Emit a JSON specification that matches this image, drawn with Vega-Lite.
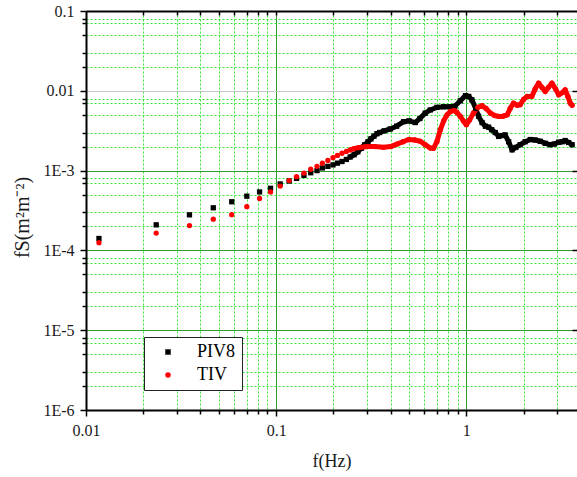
{
  "$schema": "https://vega.github.io/schema/vega-lite/v6.json",
  "width": 491,
  "height": 399,
  "autosize": {"type": "none"},
  "padding": {"left": 86, "top": 11, "right": 0, "bottom": 67},
  "background": "white",
  "config": {
    "view": {"stroke": null},
    "font": "'Times New Roman', 'Liberation Serif', serif",
    "axis": {"labelFont": "'Times New Roman', 'Liberation Serif', serif", "titleFont": "'Times New Roman', 'Liberation Serif', serif", "labelColor": "#1a1a1a", "titleColor": "#1a1a1a", "titleFontWeight": "normal"},
    "legend": {"labelFont": "'Times New Roman', 'Liberation Serif', serif"}
  },
  "datasets": {
    "spec": [
      {"f": 0.0117, "S": 0.000141, "series": "PIV8"},
      {"f": 0.0234, "S": 0.000209, "series": "PIV8"},
      {"f": 0.035, "S": 0.000279, "series": "PIV8"},
      {"f": 0.0467, "S": 0.000342, "series": "PIV8"},
      {"f": 0.0584, "S": 0.000407, "series": "PIV8"},
      {"f": 0.0701, "S": 0.000478, "series": "PIV8"},
      {"f": 0.0818, "S": 0.00054, "series": "PIV8"},
      {"f": 0.0934, "S": 0.0006, "series": "PIV8"},
      {"f": 0.105, "S": 0.00068, "series": "PIV8"},
      {"f": 0.117, "S": 0.00074, "series": "PIV8"},
      {"f": 0.128, "S": 0.0008, "series": "PIV8"},
      {"f": 0.14, "S": 0.00087, "series": "PIV8"},
      {"f": 0.152, "S": 0.00094, "series": "PIV8"},
      {"f": 0.164, "S": 0.001, "series": "PIV8"},
      {"f": 0.175, "S": 0.00108, "series": "PIV8"},
      {"f": 0.187, "S": 0.00113, "series": "PIV8"},
      {"f": 0.199, "S": 0.00118, "series": "PIV8"},
      {"f": 0.21, "S": 0.00124, "series": "PIV8"},
      {"f": 0.222, "S": 0.0013, "series": "PIV8"},
      {"f": 0.234, "S": 0.00138, "series": "PIV8"},
      {"f": 0.245, "S": 0.00148, "series": "PIV8"},
      {"f": 0.257, "S": 0.00158, "series": "PIV8"},
      {"f": 0.269, "S": 0.00172, "series": "PIV8"},
      {"f": 0.28, "S": 0.0019, "series": "PIV8"},
      {"f": 0.292, "S": 0.0021, "series": "PIV8"},
      {"f": 0.304, "S": 0.0023, "series": "PIV8"},
      {"f": 0.315, "S": 0.0025, "series": "PIV8"},
      {"f": 0.327, "S": 0.0027, "series": "PIV8"},
      {"f": 0.339, "S": 0.0029, "series": "PIV8"},
      {"f": 0.35, "S": 0.003, "series": "PIV8"},
      {"f": 0.37, "S": 0.00315, "series": "PIV8"},
      {"f": 0.398, "S": 0.00332, "series": "PIV8"},
      {"f": 0.43, "S": 0.0036, "series": "PIV8"},
      {"f": 0.468, "S": 0.0041, "series": "PIV8"},
      {"f": 0.5, "S": 0.0042, "series": "PIV8"},
      {"f": 0.539, "S": 0.004, "series": "PIV8"},
      {"f": 0.57, "S": 0.0045, "series": "PIV8"},
      {"f": 0.608, "S": 0.00525, "series": "PIV8"},
      {"f": 0.646, "S": 0.00575, "series": "PIV8"},
      {"f": 0.7, "S": 0.0062, "series": "PIV8"},
      {"f": 0.76, "S": 0.0063, "series": "PIV8"},
      {"f": 0.82, "S": 0.0063, "series": "PIV8"},
      {"f": 0.87, "S": 0.0064, "series": "PIV8"},
      {"f": 0.93, "S": 0.0075, "series": "PIV8"},
      {"f": 0.99, "S": 0.0087, "series": "PIV8"},
      {"f": 1.03, "S": 0.0085, "series": "PIV8"},
      {"f": 1.07, "S": 0.0077, "series": "PIV8"},
      {"f": 1.12, "S": 0.006, "series": "PIV8"},
      {"f": 1.16, "S": 0.0048, "series": "PIV8"},
      {"f": 1.21, "S": 0.004, "series": "PIV8"},
      {"f": 1.26, "S": 0.0036, "series": "PIV8"},
      {"f": 1.31, "S": 0.0035, "series": "PIV8"},
      {"f": 1.36, "S": 0.00325, "series": "PIV8"},
      {"f": 1.42, "S": 0.003, "series": "PIV8"},
      {"f": 1.48, "S": 0.00268, "series": "PIV8"},
      {"f": 1.54, "S": 0.00275, "series": "PIV8"},
      {"f": 1.6, "S": 0.0028, "series": "PIV8"},
      {"f": 1.67, "S": 0.0023, "series": "PIV8"},
      {"f": 1.74, "S": 0.00182, "series": "PIV8"},
      {"f": 1.82, "S": 0.00195, "series": "PIV8"},
      {"f": 1.92, "S": 0.00211, "series": "PIV8"},
      {"f": 2.04, "S": 0.0023, "series": "PIV8"},
      {"f": 2.17, "S": 0.00245, "series": "PIV8"},
      {"f": 2.3, "S": 0.00242, "series": "PIV8"},
      {"f": 2.45, "S": 0.00233, "series": "PIV8"},
      {"f": 2.6, "S": 0.0022, "series": "PIV8"},
      {"f": 2.76, "S": 0.00211, "series": "PIV8"},
      {"f": 2.9, "S": 0.00215, "series": "PIV8"},
      {"f": 3.06, "S": 0.00227, "series": "PIV8"},
      {"f": 3.2, "S": 0.0023, "series": "PIV8"},
      {"f": 3.31, "S": 0.00238, "series": "PIV8"},
      {"f": 3.45, "S": 0.00225, "series": "PIV8"},
      {"f": 3.6, "S": 0.00211, "series": "PIV8"},
      {"f": 0.0117, "S": 0.000125, "series": "TIV"},
      {"f": 0.0234, "S": 0.000165, "series": "TIV"},
      {"f": 0.035, "S": 0.000205, "series": "TIV"},
      {"f": 0.0467, "S": 0.000246, "series": "TIV"},
      {"f": 0.0584, "S": 0.00028, "series": "TIV"},
      {"f": 0.0701, "S": 0.000353, "series": "TIV"},
      {"f": 0.0818, "S": 0.000447, "series": "TIV"},
      {"f": 0.0934, "S": 0.00054, "series": "TIV"},
      {"f": 0.105, "S": 0.00064, "series": "TIV"},
      {"f": 0.117, "S": 0.00075, "series": "TIV"},
      {"f": 0.128, "S": 0.00084, "series": "TIV"},
      {"f": 0.14, "S": 0.00093, "series": "TIV"},
      {"f": 0.152, "S": 0.00104, "series": "TIV"},
      {"f": 0.164, "S": 0.00113, "series": "TIV"},
      {"f": 0.175, "S": 0.00124, "series": "TIV"},
      {"f": 0.187, "S": 0.00134, "series": "TIV"},
      {"f": 0.199, "S": 0.00145, "series": "TIV"},
      {"f": 0.21, "S": 0.00155, "series": "TIV"},
      {"f": 0.222, "S": 0.00165, "series": "TIV"},
      {"f": 0.234, "S": 0.00174, "series": "TIV"},
      {"f": 0.245, "S": 0.00182, "series": "TIV"},
      {"f": 0.257, "S": 0.00188, "series": "TIV"},
      {"f": 0.269, "S": 0.00193, "series": "TIV"},
      {"f": 0.28, "S": 0.00196, "series": "TIV"},
      {"f": 0.292, "S": 0.00199, "series": "TIV"},
      {"f": 0.304, "S": 0.00201, "series": "TIV"},
      {"f": 0.33, "S": 0.002, "series": "TIV"},
      {"f": 0.367, "S": 0.00196, "series": "TIV"},
      {"f": 0.4, "S": 0.002, "series": "TIV"},
      {"f": 0.432, "S": 0.00215, "series": "TIV"},
      {"f": 0.465, "S": 0.0023, "series": "TIV"},
      {"f": 0.497, "S": 0.00245, "series": "TIV"},
      {"f": 0.535, "S": 0.00242, "series": "TIV"},
      {"f": 0.573, "S": 0.00233, "series": "TIV"},
      {"f": 0.61, "S": 0.0021, "series": "TIV"},
      {"f": 0.646, "S": 0.00192, "series": "TIV"},
      {"f": 0.672, "S": 0.0019, "series": "TIV"},
      {"f": 0.7, "S": 0.0023, "series": "TIV"},
      {"f": 0.73, "S": 0.00325, "series": "TIV"},
      {"f": 0.76, "S": 0.0042, "series": "TIV"},
      {"f": 0.792, "S": 0.005, "series": "TIV"},
      {"f": 0.825, "S": 0.0055, "series": "TIV"},
      {"f": 0.858, "S": 0.00567, "series": "TIV"},
      {"f": 0.89, "S": 0.0054, "series": "TIV"},
      {"f": 0.93, "S": 0.00478, "series": "TIV"},
      {"f": 0.965, "S": 0.0042, "series": "TIV"},
      {"f": 1.0, "S": 0.00376, "series": "TIV"},
      {"f": 1.04, "S": 0.0043, "series": "TIV"},
      {"f": 1.09, "S": 0.00525, "series": "TIV"},
      {"f": 1.15, "S": 0.0062, "series": "TIV"},
      {"f": 1.21, "S": 0.0065, "series": "TIV"},
      {"f": 1.27, "S": 0.006, "series": "TIV"},
      {"f": 1.34, "S": 0.00525, "series": "TIV"},
      {"f": 1.41, "S": 0.0049, "series": "TIV"},
      {"f": 1.48, "S": 0.00478, "series": "TIV"},
      {"f": 1.56, "S": 0.0048, "series": "TIV"},
      {"f": 1.64, "S": 0.005, "series": "TIV"},
      {"f": 1.7, "S": 0.006, "series": "TIV"},
      {"f": 1.77, "S": 0.007, "series": "TIV"},
      {"f": 1.85, "S": 0.0066, "series": "TIV"},
      {"f": 1.92, "S": 0.0067, "series": "TIV"},
      {"f": 2.0, "S": 0.0078, "series": "TIV"},
      {"f": 2.09, "S": 0.0085, "series": "TIV"},
      {"f": 2.21, "S": 0.0085, "series": "TIV"},
      {"f": 2.3, "S": 0.0105, "series": "TIV"},
      {"f": 2.4, "S": 0.0125, "series": "TIV"},
      {"f": 2.5, "S": 0.011, "series": "TIV"},
      {"f": 2.6, "S": 0.0098, "series": "TIV"},
      {"f": 2.7, "S": 0.011, "series": "TIV"},
      {"f": 2.82, "S": 0.0125, "series": "TIV"},
      {"f": 2.95, "S": 0.0105, "series": "TIV"},
      {"f": 3.06, "S": 0.0089, "series": "TIV"},
      {"f": 3.2, "S": 0.0095, "series": "TIV"},
      {"f": 3.31, "S": 0.0103, "series": "TIV"},
      {"f": 3.42, "S": 0.0085, "series": "TIV"},
      {"f": 3.52, "S": 0.007, "series": "TIV"},
      {"f": 3.6, "S": 0.0066, "series": "TIV"}
    ]
  },
  "data": {"name": "spec"},
  "resolve": {"axis": {"x": "independent", "y": "independent"}},
  "layer": [
    {
      "mark": {"type": "point", "opacity": 0},
      "encoding": {
        "x": {"field": "f", "type": "quantitative", "scale": {"type": "log", "domain": [0.01, 3.82], "nice": false},
          "axis": {"orient": "bottom", "values": [0.02,0.03,0.04,0.05,0.06,0.07,0.08,0.09,0.2,0.3,0.4,0.5,0.6,0.7,0.8,0.9,2,3], "labels": false, "title": null, "domain": false, "tickSize": 4, "tickColor": "black", "tickWidth": 1.5, "grid": true, "gridColor": "#33e833", "gridDash": [2, 2], "gridWidth": 1}},
        "y": {"field": "S", "type": "quantitative", "scale": {"type": "log", "domain": [0.000001, 0.1], "nice": false},
          "axis": {"orient": "left", "values": [0.000002,0.000003,0.000005,0.000007,0.000008,0.00002,0.00003,0.00005,0.00007,0.00008,0.0002,0.0003,0.0005,0.0007,0.0008,0.002,0.003,0.005,0.007,0.008,0.02,0.03,0.05,0.07,0.08], "labels": false, "title": null, "domain": false, "tickSize": 4, "tickColor": "black", "tickWidth": 1.5, "grid": true, "gridColor": "#33e833", "gridDash": [2, 2], "gridWidth": 1}}
      }
    },
    {
      "mark": {"type": "point", "opacity": 0},
      "encoding": {
        "x": {"field": "f", "type": "quantitative", "scale": {"type": "log", "domain": [0.01, 3.82], "nice": false},
          "axis": {"orient": "bottom", "values": [0.01, 0.1, 1], "labelExpr": "datum.value >= 1 ? '1' : datum.value >= 0.1 ? '0.1' : '0.01'", "labelFontSize": 16, "labelPadding": 6, "labelFlush": false, "tickSize": 6, "tickWidth": 1.5, "tickColor": "black", "domainColor": "black", "domainWidth": 2, "grid": true, "gridColor": "#2f9a2f", "gridWidth": 1, "title": "f(Hz)", "titleFontSize": 18, "titleFontWeight": "normal", "titlePadding": 14}},
        "y": {"field": "S", "type": "quantitative", "scale": {"type": "log", "domain": [0.000001, 0.1], "nice": false},
          "axis": {"orient": "left", "values": [0.000001, 0.00001, 0.0001, 0.001, 0.01, 0.1], "labelExpr": "datum.value >= 0.09 ? '0.1' : datum.value >= 0.009 ? '0.01' : datum.value >= 0.0009 ? '1E-3' : datum.value >= 0.00009 ? '1E-4' : datum.value >= 0.000009 ? '1E-5' : '1E-6'", "labelFontSize": 16, "labelPadding": 6, "labelFlush": false, "tickSize": 6, "tickWidth": 1.5, "tickColor": "black", "domainColor": "black", "domainWidth": 2, "grid": true, "gridColor": {"condition": {"test": "datum.value > 0.005 && datum.value < 0.05", "value": "#c8c8c8"}, "value": "#2f9a2f"}, "gridWidth": 1, "title": "fS(m²m⁻²)", "titleFontSize": 20, "titleFontWeight": "normal", "titleX": -54, "titleY": 206}}
      }
    },
    {
      "mark": {"type": "point", "opacity": 0},
      "encoding": {
        "x": {"field": "f", "type": "quantitative", "scale": {"type": "log", "domain": [0.01, 3.82], "nice": false},
          "axis": {"orient": "top", "values": [0.02,0.03,0.04,0.05,0.06,0.07,0.08,0.09,0.1,0.2,0.3,0.4,0.5,0.6,0.7,0.8,0.9,1,2,3], "labels": false, "title": null, "tickSize": -4, "tickWidth": 1.5, "tickColor": "black", "domainColor": "black", "domainWidth": 2, "grid": false}},
        "y": {"field": "S", "type": "quantitative", "scale": {"type": "log", "domain": [0.000001, 0.1], "nice": false},
          "axis": {"orient": "right", "values": [0.00001, 0.0001, 0.001, 0.01], "labels": false, "title": null, "tickSize": -5, "tickWidth": 1.5, "tickColor": "black", "domain": false, "grid": false}}
      }
    },
    {
      "transform": [{"filter": "datum.f > 0.24 && datum.series == 'PIV8'"}],
      "mark": {"type": "line", "strokeWidth": 5, "strokeCap": "round", "strokeJoin": "round", "color": "black"},
      "encoding": {
        "x": {"field": "f", "type": "quantitative", "scale": {"type": "log", "domain": [0.01, 3.82], "nice": false}, "axis": null},
        "y": {"field": "S", "type": "quantitative", "scale": {"type": "log", "domain": [0.000001, 0.1], "nice": false}, "axis": null}
      }
    },
    {
      "transform": [{"filter": "datum.f > 0.24 && datum.series == 'TIV'"}],
      "mark": {"type": "line", "strokeWidth": 5, "strokeCap": "round", "strokeJoin": "round", "color": "red"},
      "encoding": {
        "x": {"field": "f", "type": "quantitative", "scale": {"type": "log", "domain": [0.01, 3.82], "nice": false}, "axis": null},
        "y": {"field": "S", "type": "quantitative", "scale": {"type": "log", "domain": [0.000001, 0.1], "nice": false}, "axis": null}
      }
    },
    {
      "mark": {"type": "point", "filled": true, "size": 28, "opacity": 1},
      "encoding": {
        "x": {"field": "f", "type": "quantitative", "scale": {"type": "log", "domain": [0.01, 3.82], "nice": false}, "axis": null},
        "y": {"field": "S", "type": "quantitative", "scale": {"type": "log", "domain": [0.000001, 0.1], "nice": false}, "axis": null},
        "color": {"field": "series", "type": "nominal", "scale": {"domain": ["PIV8", "TIV"], "range": ["black", "red"]},
          "legend": {"title": null, "orient": "none", "legendX": 58, "legendY": 326, "fillColor": "white", "strokeColor": "#222", "padding": 6, "labelFontSize": 18, "labelOffset": 20, "symbolOffset": 9, "symbolSize": 30, "rowPadding": 5, "offset": 0}},
        "shape": {"field": "series", "type": "nominal", "scale": {"domain": ["PIV8", "TIV"], "range": ["square", "circle"]},
          "legend": {"title": null, "orient": "none", "legendX": 58, "legendY": 326, "fillColor": "white", "strokeColor": "#222", "padding": 6, "labelFontSize": 18, "labelOffset": 20, "symbolOffset": 9, "symbolSize": 30, "rowPadding": 5, "offset": 0}}
      }
    }
  ]
}
